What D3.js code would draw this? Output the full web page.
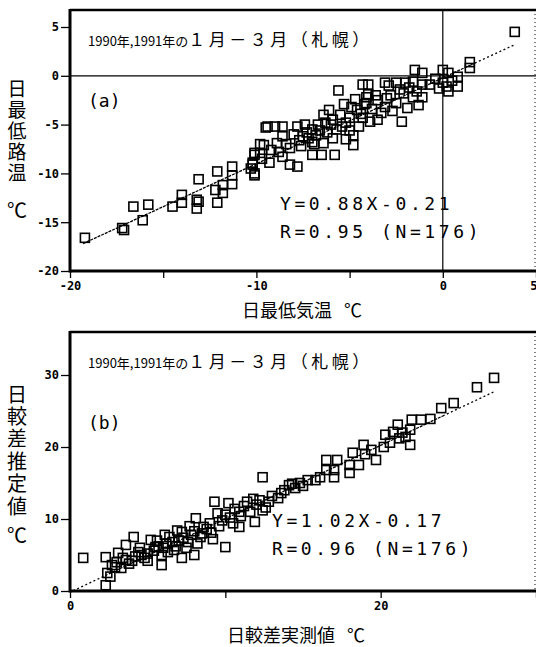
<!DOCTYPE html>
<html>
<head>
<meta charset="utf-8">
<script src="https://cdn.jsdelivr.net/npm/d3@7"></script>
<style>
  body { margin: 0; background: #fff; }
  svg { display: block; }
  .tick text { font-family: "DejaVu Sans Mono", monospace; font-weight: bold; font-size: 12px; fill: #000; }
  .tick line { stroke: #000; stroke-width: 1.3; }
  .jp { font-family: "Noto Sans CJK JP", sans-serif; fill: #000; }
  .eq { font-family: "DejaVu Sans Mono", monospace; font-size: 18px; letter-spacing: 3.6px; fill: #000; }
  .tag { font-family: "DejaVu Sans Mono", monospace; font-size: 18px; fill: #000; }
</style>
</head>
<body>
<script>
var width = 536;
var height = 647;

// (a) daily minimum air temperature vs daily minimum road temperature
var airMin = [
  -19.2, -17.2, -17.1, -16.6, -16.1, -15.8, -14.5, -14.0, -14.0, -13.1, -13.2, -13.1, -13.2,
  -12.1, -12.1, -12.2, -11.8, -11.8, -11.3, -11.3, -11.3, -10.2, -10.1, -9.5, -9.8, -10.1,
  -10.2, -10.1, -10.1, -9.8, -9.6, -9.4, -9.3, -9.0, -8.9, -8.6, -8.6, -8.6, -8.2, -8.2,
  -7.8, -7.8, -7.7, -7.5, -7.0, -7.0, -7.0, -6.8, -6.5, -6.4, -6.4, -6.3, -6.2, -5.9,
  -5.9, -5.8, -5.7, -5.6, -5.5, -5.4, -5.0, -4.9, -4.8, -4.8, -4.6, -4.5, -4.3, -4.3,
  -4.1, -4.1, -4.0, -4.0, -3.9, -3.5, -3.5, -3.1, -3.1, -3.0, -2.5, -2.5, -2.2, -2.1,
  -2.0, -1.9, -1.6, -1.6, -1.5, -1.3, -1.1, -1.1, -1.1, -0.7, 0.0, 0.3, 0.8, 0.8, 0.2,
  0.3, 0.0, 1.45, 1.45, 3.86, -9.2, -8.4, -8.0, -7.6, -7.2, -6.9, -6.6, -6.0, -5.2,
  -5.0, -4.4, -3.8, -3.6, -3.3, -2.8, -2.7, -2.3, -1.8, -1.4, -0.4, -0.2, 0.5, -9.7,
  -10.3, -8.8, -7.4, -6.1, -5.3, -4.7, -2.9, -7.3, -6.7, -5.2, -4.2
];
var roadMin = [
  -16.6, -15.6, -15.8, -13.4, -14.8, -13.2, -13.4, -12.2, -13.0, -10.6, -12.7, -12.9, -13.6,
  -9.8, -13.0, -11.7, -11.2, -12.0, -9.3, -10.2, -11.1, -9.1, -10.0, -5.3, -7.0, -7.9,
  -8.9, -10.2, -8.1, -7.9, -7.1, -5.2, -8.9, -5.2, -6.9, -5.2, -6.2, -8.3, -7.4, -9.1,
  -9.3, -5.2, -6.6, -6.2, -5.5, -6.8, -8.1, -6.1, -8.1, -4.0, -6.9, -4.8, -5.8, -4.5,
  -6.4, -8.1, -5.5, -1.5, -4.0, -5.2, -4.3, -3.2, -6.1, -7.1, -3.5, -5.2, -0.9, -4.3,
  -2.8, -2.2, -0.9, -1.9, -4.7, -2.5, -4.5, -0.7, -3.2, -2.3, -0.7, -2.8, -4.7, -1.8,
  -0.7, -3.3, -2.2, -0.6, 0.6, -3.0, 0.3, -0.9, -2.2, -0.9, 0.6, 0.3, -0.1, -1.1, -1.1,
  -1.6, -0.7, 1.4, 0.8, 4.5, -7.6, -7.0, -6.0, -7.2, -6.4, -7.0, -5.6, -5.0, -4.8,
  -5.6, -3.9, -3.4, -2.0, -3.8, -2.0, -3.6, -1.4, -1.2, -1.6, -0.3, -1.3, -0.5, -8.5,
  -9.5, -7.8, -5.0, -3.5, -2.9, -2.4, -1.0, -5.8, -5.0, -6.5, -2.9
];

// (b) observed vs estimated daily temperature range
var rangeObs = [
  0.85, 2.3, 2.4, 2.6, 2.3, 2.7, 3.1, 2.9, 3.3, 3.6, 3.6, 4.1, 4.4, 4.8, 5.2, 5.5, 5.9,
  5.9, 6.4, 6.7, 7.2, 7.2, 7.6, 8.0, 8.1, 8.4, 8.6, 9.1, 9.3, 9.5, 10.0, 10.0, 10.2,
  10.5, 10.9, 10.9, 11.4, 11.9, 12.4, 12.4, 13.4, 13.8, 14.1, 14.3, 14.8, 15.3, 15.8,
  16.1, 16.5, 16.5, 17.0, 17.0, 17.2, 18.0, 18.0, 18.2, 18.6, 18.9, 19.7, 20.2, 20.3,
  20.8, 21.1, 21.2, 21.6, 21.9, 21.9, 22.0, 22.6, 23.2, 23.9, 24.7, 26.2, 27.3,
  3.0, 3.4, 3.8, 4.0, 4.2, 4.6, 5.0, 5.0, 5.4, 5.7, 6.0, 6.2, 6.3, 6.6, 6.8, 7.0, 7.3,
  7.5, 7.8, 8.0, 8.2, 8.5, 8.8, 9.0, 9.2, 9.6, 9.8, 10.3, 10.6, 11.0, 11.2, 11.6, 12.0,
  12.2, 12.8, 13.0, 13.6, 14.5, 15.0, 19.0, 19.4, 20.6, 21.4, 12.6, 11.8, 4.5, 5.6,
  6.1, 6.9, 7.7
];
var rangeEst = [
  4.6, 0.8, 2.5, 2.0, 4.7, 3.6, 5.3, 3.3, 3.2, 4.3, 6.4, 7.5, 5.4, 4.6, 7.1, 6.1, 5.0,
  3.6, 7.5, 5.7, 4.6, 8.2, 6.8, 5.0, 10.1, 7.5, 8.9, 8.1, 12.4, 10.8, 6.1, 10.6, 12.2,
  9.4, 8.9, 11.0, 12.4, 9.6, 11.2, 15.8, 12.9, 14.0, 14.7, 14.9, 15.0, 15.4, 15.4,
  15.8, 16.8, 18.2, 16.8, 15.8, 18.2, 17.5, 16.4, 19.2, 17.5, 20.3, 18.2, 20.0, 21.7,
  22.1, 23.1, 21.2, 21.4, 22.4, 20.3, 23.8, 23.8, 23.9, 25.4, 26.1, 28.3, 29.6,
  4.0, 4.6, 3.8, 4.2, 4.8, 5.0, 5.2, 4.2, 5.6, 6.2, 6.0, 6.6, 5.4, 6.8, 6.2, 7.0, 7.4,
  6.0, 7.8, 8.3, 6.6, 8.0, 8.6, 9.4, 7.2, 9.0, 9.8, 10.2, 11.4, 10.4, 11.8, 11.0, 12.0,
  12.6, 12.4, 13.2, 13.6, 14.3, 14.6, 19.0, 19.6, 20.6, 22.0, 11.6, 12.8, 6.0, 7.0,
  7.8, 8.4, 9.0
];

var svg = d3
  .select("body")
  .append("svg")
  .attr("width", width)
  .attr("height", height);

svg.append("rect").attr("width", width).attr("height", height).attr("fill", "#fff");

function drawPanel(p) {
  var x = d3.scaleLinear().domain(p.xDomain).range([70, 536]);
  var y = d3.scaleLinear().domain(p.yDomain).range([p.bottom, p.yTop]);
  var g = svg.append("g");

  // reference lines
  if (p.zeroLines) {
    g.append("line").attr("x1", 70).attr("x2", 536).attr("y1", y(0)).attr("y2", y(0))
      .attr("stroke", "#000").attr("stroke-width", 1.2);
    g.append("line").attr("x1", x(0)).attr("x2", x(0)).attr("y1", p.top).attr("y2", p.bottom)
      .attr("stroke", "#000").attr("stroke-width", 1.2);
  }

  // regression line
  p.segs.forEach(function (s) {
    g.append("line")
      .attr("x1", x(s[0])).attr("y1", y(p.slope * s[0] + p.icpt))
      .attr("x2", x(s[1])).attr("y2", y(p.slope * s[1] + p.icpt))
      .attr("stroke", "#000").attr("stroke-width", 1.3)
      .attr("stroke-dasharray", s[2]);
  });

  // points
  g.selectAll("rect.pt")
    .data(p.xs)
    .enter()
    .append("rect")
    .attr("class", "pt")
    .attr("x", function (d) { return x(d) - 4.5; })
    .attr("y", function (d, i) { return y(p.ys[i]) - 4.5; })
    .attr("width", 9)
    .attr("height", 9)
    .attr("fill", "none")
    .attr("stroke", "#000")
    .attr("stroke-width", 1.6);

  // frame
  g.append("line").attr("x1", 70).attr("x2", 536).attr("y1", p.top).attr("y2", p.top)
    .attr("stroke", "#000").attr("stroke-width", 2.5);
  g.append("line").attr("x1", 70).attr("x2", 536).attr("y1", p.bottom).attr("y2", p.bottom)
    .attr("stroke", "#000").attr("stroke-width", 3);
  g.append("line").attr("x1", 70).attr("x2", 70).attr("y1", p.top - 1).attr("y2", p.bottom + 1.5)
    .attr("stroke", "#000").attr("stroke-width", 3);
  g.append("line").attr("x1", 535).attr("x2", 535).attr("y1", p.top).attr("y2", p.bottom)
    .attr("stroke", "#000").attr("stroke-width", 1).attr("stroke-dasharray", "1,3");

  // axes
  var xAxis = d3.axisBottom(x)
    .tickValues(p.xTicks)
    .tickSize(7)
    .tickPadding(3)
    .tickFormat(function (d) { return p.xLabels.indexOf(d) >= 0 ? String(d) : ""; });
  var xg = g.append("g").attr("transform", "translate(0," + p.bottom + ")").call(xAxis);
  xg.select(".domain").remove();
  // last label sits on the right edge
  xg.selectAll(".tick text")
    .filter(function (d) { return x(d) > 530; })
    .attr("text-anchor", "end")
    .attr("dx", 1);

  var yAxis = d3.axisLeft(y)
    .tickValues(p.yTicks)
    .tickSize(9)
    .tickPadding(2)
    .tickFormat(function (d) { return String(d); });
  var yg = g.append("g").attr("transform", "translate(70,0)").call(yAxis);
  yg.select(".domain").remove();

  // title
  var t = g.append("text").attr("class", "jp").attr("x", 88).attr("y", p.top + 36);
  t.append("tspan").attr("font-size", 13).attr("font-family", "Noto Sans CJK JP").text("1990年,1991年の");
  t.append("tspan").attr("font-size", 17).attr("letter-spacing", 3.5).text("１月－３月（札幌）");

  g.append("text").attr("class", "tag").attr("x", 88).attr("y", p.top + 97).text(p.tag);

  g.append("text").attr("class", "eq").attr("x", p.eqX).attr("y", p.eqY).text(p.eq1);
  g.append("text").attr("class", "eq").attr("x", p.eqX).attr("y", p.eqY + 28).text(p.eq2);

  // y label (vertical)
  g.append("text").attr("class", "jp")
    .attr("x", 17).attr("y", p.yLabelY)
    .style("writing-mode", "vertical-rl")
    .attr("font-size", p.yLabelSize)
    .attr("letter-spacing", p.yLabelGap)
    .text(p.yLabel);
  g.append("text").attr("class", "jp")
    .attr("x", 17).attr("y", p.unitY)
    .attr("text-anchor", "middle").attr("dominant-baseline", "central")
    .attr("font-size", 20).text("℃");

  // x label
  var xl = g.append("text").attr("class", "jp").attr("x", p.xLabelX).attr("y", p.xLabelY)
    .attr("font-size", 18);
  xl.append("tspan").text(p.xLabel);
  xl.append("tspan").attr("dx", 12).text("℃");
}

drawPanel({
  xDomain: [-20, 5],
  yDomain: [-20, 5],
  top: 10,
  yTop: 27,
  bottom: 271,
  zeroLines: true,
  xs: airMin,
  ys: roadMin,
  slope: 0.88,
  icpt: -0.21,
  segs: [[-19.3, 1.5, "3,1"], [1.5, 3.9, "2,2.5"]],
  xTicks: [-20, -15, -10, -5, 0, 5],
  xLabels: [-20, -10, 0, 5],
  yTicks: [5, 0, -5, -10, -15, -20],
  tag: "(a)",
  eq1: "Y=0.88X-0.21",
  eq2: "R=0.95 (N=176)",
  eqX: 280,
  eqY: 210,
  yLabel: "日最低路温",
  yLabelY: 79,
  yLabelSize: 19,
  yLabelGap: 2,
  unitY: 209,
  xLabel: "日最低気温",
  xLabelX: 242,
  xLabelY: 317
});

drawPanel({
  xDomain: [0, 30],
  yDomain: [0, 30],
  top: 332,
  yTop: 375,
  bottom: 591,
  zeroLines: false,
  xs: rangeObs,
  ys: rangeEst,
  slope: 1.02,
  icpt: -0.17,
  segs: [[0.2, 2.5, "2,2.5"], [2.5, 24, "3,1"], [24, 27.3, "2,2.5"]],
  xTicks: [0, 10, 20, 30],
  xLabels: [0, 20],
  yTicks: [0, 10, 20, 30],
  tag: "(b)",
  eq1: "Y=1.02X-0.17",
  eq2: "R=0.96 (N=176)",
  eqX: 272,
  eqY: 527,
  yLabel: "日較差推定値",
  yLabelY: 384,
  yLabelSize: 20,
  yLabelGap: 2.4,
  unitY: 534,
  xLabel: "日較差実測値",
  xLabelX: 227,
  xLabelY: 642
});
</script>
</body>
</html>
